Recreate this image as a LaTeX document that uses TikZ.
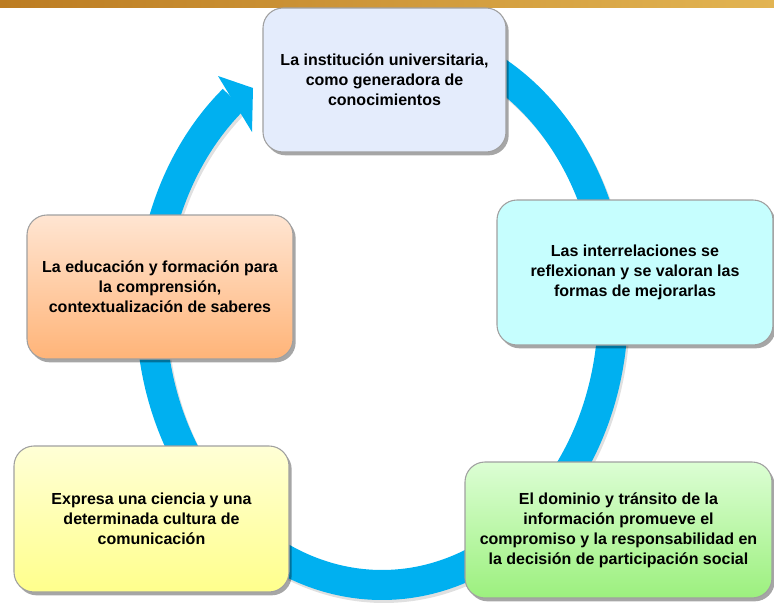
\documentclass[tikz,border=0pt]{standalone}
\usepackage{fontspec}
\setmainfont{Liberation Sans}
\usetikzlibrary{shadows}
\definecolor{ringblue}{HTML}{00B0F0}
\definecolor{boxborder}{HTML}{A0A0A0}
\definecolor{goldA}{HTML}{BC7C22}
\definecolor{goldB}{HTML}{FFFBD0}
\definecolor{goldC}{HTML}{E2B452}
\definecolor{blueF}{HTML}{E4ECFC}
\definecolor{cyanF}{HTML}{C6FEFE}
\definecolor{greenT}{HTML}{DCFED4}
\definecolor{greenB}{HTML}{9CF07E}
\definecolor{yellowT}{HTML}{FFFFD6}
\definecolor{yellowB}{HTML}{FFFF8C}
\definecolor{orangeT}{HTML}{FFE5D2}
\definecolor{orangeB}{HTML}{FFB478}
\begin{document}
\begin{tikzpicture}[x=0.75pt,y=-0.75pt,
  box/.style={draw=boxborder, line width=0.8pt, rounded corners=15pt, inner sep=0pt,
    align=center, font=\bfseries\fontsize{12}{15}\selectfont,
    drop shadow={shadow xshift=2pt, shadow yshift=-2.5pt, opacity=0.35, fill=black}},
  ringline/.style={line width=22.5pt, ringblue}]
\useasboundingbox (0,0) rectangle (774,607);
\fill[white] (0,0) rectangle (774,607);
\shade[left color=goldA, middle color=goldB, right color=goldC] (0,0) rectangle (774,7);
% ring shadow
\draw[line width=22.5pt, black, opacity=0.12]
  plot[domain=100:-229, samples=160, smooth] ({384+231*cos(\x)},{313-275*sin(\x)});
% ring
\draw[ringline]
  plot[domain=100:-230, samples=160, smooth] ({382+231*cos(\x)},{310-275*sin(\x)});
\fill[ringblue] (218,76) -- (253,88) -- (252,132) -- cycle;
% boxes
\node[box, fill=blueF, minimum width=182.25pt, minimum height=108pt] (n1) at (384.5,80)
  {La institución universitaria,\\como generadora de\\conocimientos};
\node[box, fill=cyanF, minimum width=207pt, minimum height=108.75pt] (n2) at (635,272.5)
  {Las interrelaciones se\\reflexionan y se valoran las\\formas de mejorarlas};
\node[box, top color=greenT, bottom color=greenB, minimum width=230.25pt, minimum height=102pt] (n3) at (618.5,530)
  {El dominio y tránsito de la\\información promueve el\\compromiso y la responsabilidad en\\la decisión de participación social};
\node[box, top color=yellowT, bottom color=yellowB, minimum width=206.25pt, minimum height=109.5pt] (n4) at (151.5,519)
  {Expresa una ciencia y una\\determinada cultura de\\comunicación};
\node[box, top color=orangeT, bottom color=orangeB, minimum width=199.5pt, minimum height=108pt] (n5) at (160,287)
  {La educación y formación para\\la comprensión,\\contextualización de saberes};
\end{tikzpicture}
\end{document}
